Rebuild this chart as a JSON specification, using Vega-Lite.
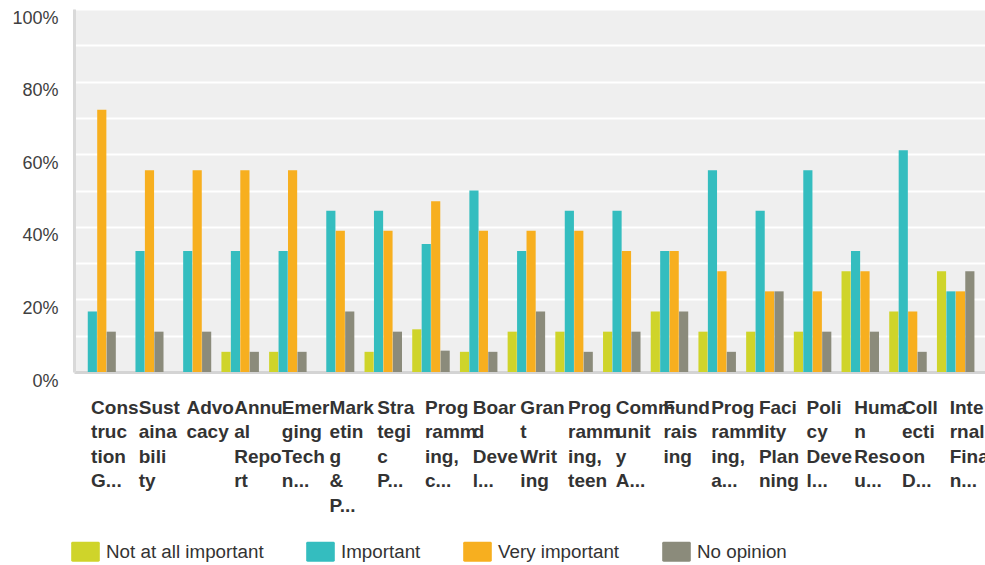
{
  "$schema": "https://vega.github.io/schema/vega-lite/v6.json",
  "width": 911,
  "height": 363,
  "autosize": {"type": "none"},
  "padding": {"left": 74, "top": 9, "right": 0, "bottom": 193},
  "background": "white",
  "config": {
    "view": {"fill": "#efefef", "stroke": null},
    "font": "Liberation Sans"
  },
  "data": {
    "values": [
      {"category": "Construction G...", "rating": "Not at all important", "share": 0},
      {"category": "Construction G...", "rating": "Important", "share": 0.1667},
      {"category": "Construction G...", "rating": "Very important", "share": 0.7222},
      {"category": "Construction G...", "rating": "No opinion", "share": 0.1111},
      {"category": "Sustainability", "rating": "Not at all important", "share": 0},
      {"category": "Sustainability", "rating": "Important", "share": 0.3333},
      {"category": "Sustainability", "rating": "Very important", "share": 0.5556},
      {"category": "Sustainability", "rating": "No opinion", "share": 0.1111},
      {"category": "Advocacy", "rating": "Not at all important", "share": 0},
      {"category": "Advocacy", "rating": "Important", "share": 0.3333},
      {"category": "Advocacy", "rating": "Very important", "share": 0.5556},
      {"category": "Advocacy", "rating": "No opinion", "share": 0.1111},
      {"category": "Annual Report", "rating": "Not at all important", "share": 0.0556},
      {"category": "Annual Report", "rating": "Important", "share": 0.3333},
      {"category": "Annual Report", "rating": "Very important", "share": 0.5556},
      {"category": "Annual Report", "rating": "No opinion", "share": 0.0556},
      {"category": "Emerging Techn...", "rating": "Not at all important", "share": 0.0556},
      {"category": "Emerging Techn...", "rating": "Important", "share": 0.3333},
      {"category": "Emerging Techn...", "rating": "Very important", "share": 0.5556},
      {"category": "Emerging Techn...", "rating": "No opinion", "share": 0.0556},
      {"category": "Marketing & P...", "rating": "Not at all important", "share": 0},
      {"category": "Marketing & P...", "rating": "Important", "share": 0.4444},
      {"category": "Marketing & P...", "rating": "Very important", "share": 0.3889},
      {"category": "Marketing & P...", "rating": "No opinion", "share": 0.1667},
      {"category": "Strategic P...", "rating": "Not at all important", "share": 0.0556},
      {"category": "Strategic P...", "rating": "Important", "share": 0.4444},
      {"category": "Strategic P...", "rating": "Very important", "share": 0.3889},
      {"category": "Strategic P...", "rating": "No opinion", "share": 0.1111},
      {"category": "Programming, c...", "rating": "Not at all important", "share": 0.1176},
      {"category": "Programming, c...", "rating": "Important", "share": 0.3529},
      {"category": "Programming, c...", "rating": "Very important", "share": 0.4706},
      {"category": "Programming, c...", "rating": "No opinion", "share": 0.0588},
      {"category": "Board Devel...", "rating": "Not at all important", "share": 0.0556},
      {"category": "Board Devel...", "rating": "Important", "share": 0.5},
      {"category": "Board Devel...", "rating": "Very important", "share": 0.3889},
      {"category": "Board Devel...", "rating": "No opinion", "share": 0.0556},
      {"category": "Grant Writing", "rating": "Not at all important", "share": 0.1111},
      {"category": "Grant Writing", "rating": "Important", "share": 0.3333},
      {"category": "Grant Writing", "rating": "Very important", "share": 0.3889},
      {"category": "Grant Writing", "rating": "No opinion", "share": 0.1667},
      {"category": "Programming, teen", "rating": "Not at all important", "share": 0.1111},
      {"category": "Programming, teen", "rating": "Important", "share": 0.4444},
      {"category": "Programming, teen", "rating": "Very important", "share": 0.3889},
      {"category": "Programming, teen", "rating": "No opinion", "share": 0.0556},
      {"category": "Community A...", "rating": "Not at all important", "share": 0.1111},
      {"category": "Community A...", "rating": "Important", "share": 0.4444},
      {"category": "Community A...", "rating": "Very important", "share": 0.3333},
      {"category": "Community A...", "rating": "No opinion", "share": 0.1111},
      {"category": "Fundraising", "rating": "Not at all important", "share": 0.1667},
      {"category": "Fundraising", "rating": "Important", "share": 0.3333},
      {"category": "Fundraising", "rating": "Very important", "share": 0.3333},
      {"category": "Fundraising", "rating": "No opinion", "share": 0.1667},
      {"category": "Programming, a...", "rating": "Not at all important", "share": 0.1111},
      {"category": "Programming, a...", "rating": "Important", "share": 0.5556},
      {"category": "Programming, a...", "rating": "Very important", "share": 0.2778},
      {"category": "Programming, a...", "rating": "No opinion", "share": 0.0556},
      {"category": "Facility Planning", "rating": "Not at all important", "share": 0.1111},
      {"category": "Facility Planning", "rating": "Important", "share": 0.4444},
      {"category": "Facility Planning", "rating": "Very important", "share": 0.2222},
      {"category": "Facility Planning", "rating": "No opinion", "share": 0.2222},
      {"category": "Policy Devel...", "rating": "Not at all important", "share": 0.1111},
      {"category": "Policy Devel...", "rating": "Important", "share": 0.5556},
      {"category": "Policy Devel...", "rating": "Very important", "share": 0.2222},
      {"category": "Policy Devel...", "rating": "No opinion", "share": 0.1111},
      {"category": "Human Resou...", "rating": "Not at all important", "share": 0.2778},
      {"category": "Human Resou...", "rating": "Important", "share": 0.3333},
      {"category": "Human Resou...", "rating": "Very important", "share": 0.2778},
      {"category": "Human Resou...", "rating": "No opinion", "share": 0.1111},
      {"category": "Collection D...", "rating": "Not at all important", "share": 0.1667},
      {"category": "Collection D...", "rating": "Important", "share": 0.6111},
      {"category": "Collection D...", "rating": "Very important", "share": 0.1667},
      {"category": "Collection D...", "rating": "No opinion", "share": 0.0556},
      {"category": "Internal Finan...", "rating": "Not at all important", "share": 0.2778},
      {"category": "Internal Finan...", "rating": "Important", "share": 0.2222},
      {"category": "Internal Finan...", "rating": "Very important", "share": 0.2222},
      {"category": "Internal Finan...", "rating": "No opinion", "share": 0.2778}
    ]
  },
  "mark": {"type": "bar"},
  "encoding": {
    "x": {
      "field": "category",
      "type": "nominal",
      "sort": null,
      "scale": {"paddingInner": 0.214, "paddingOuter": 0.156, "align": 0.29},
      "axis": {
        "title": null,
        "ticks": false,
        "domainColor": "#d4d4d4",
        "domainWidth": 3,
        "labelAngle": 0,
        "labelAlign": "left",
        "labelBaseline": "alphabetic",
        "labelOffset": -6,
        "labelPadding": 41,
        "labelFontSize": 19,
        "labelFontWeight": "bold",
        "labelColor": "#333333",
        "labelLineHeight": 24.5,
        "labelOverlap": false,
        "labelLimit": 0,
        "labelExpr": "split(replace(datum.label, regexp('([^ ]{4})(?=[^ ])', 'g'), '$1 '), ' ')"
      }
    },
    "xOffset": {
      "field": "rating",
      "type": "nominal",
      "sort": ["Not at all important", "Important", "Very important", "No opinion"],
      "scale": {"paddingInner": 0.03}
    },
    "y": {
      "field": "share",
      "type": "quantitative",
      "scale": {"domain": [0, 1]},
      "axis": {
        "title": null,
        "values": [0, 0.1, 0.2, 0.3, 0.4, 0.5, 0.6, 0.7, 0.8, 0.9, 1],
        "format": ".0%",
        "labelExpr": "round(datum.value * 10) % 2 == 0 ? datum.label : ''",
        "ticks": false,
        "domainColor": "#d9d9d9",
        "domainWidth": 3,
        "gridColor": "#ffffff",
        "gridWidth": 2,
        "labelFontSize": 18,
        "labelColor": "#404040",
        "labelPadding": 16,
        "labelOffset": 9
      }
    },
    "color": {
      "field": "rating",
      "type": "nominal",
      "scale": {
        "domain": ["Not at all important", "Important", "Very important", "No opinion"],
        "range": ["#cfd42a", "#34bdbf", "#f7af1f", "#8b8b7b"]
      },
      "legend": {
        "title": null,
        "orient": "none",
        "legendX": -3,
        "legendY": 528,
        "direction": "horizontal",
        "columns": 4,
        "columnPadding": 42,
        "padding": 0,
        "symbolType": "M-0.9,-0.7H0.9Q1,-0.7 1,-0.6V0.6Q1,0.7 0.9,0.7H-0.9Q-1,0.7 -1,0.6V-0.6Q-1,-0.7 -0.9,-0.7Z",
        "symbolSize": 818,
        "symbolStrokeWidth": 0,
        "symbolOpacity": 1,
        "labelFontSize": 18.8,
        "labelColor": "#333333",
        "labelOffset": 6,
        "labelLimit": 300
      }
    }
  }
}
